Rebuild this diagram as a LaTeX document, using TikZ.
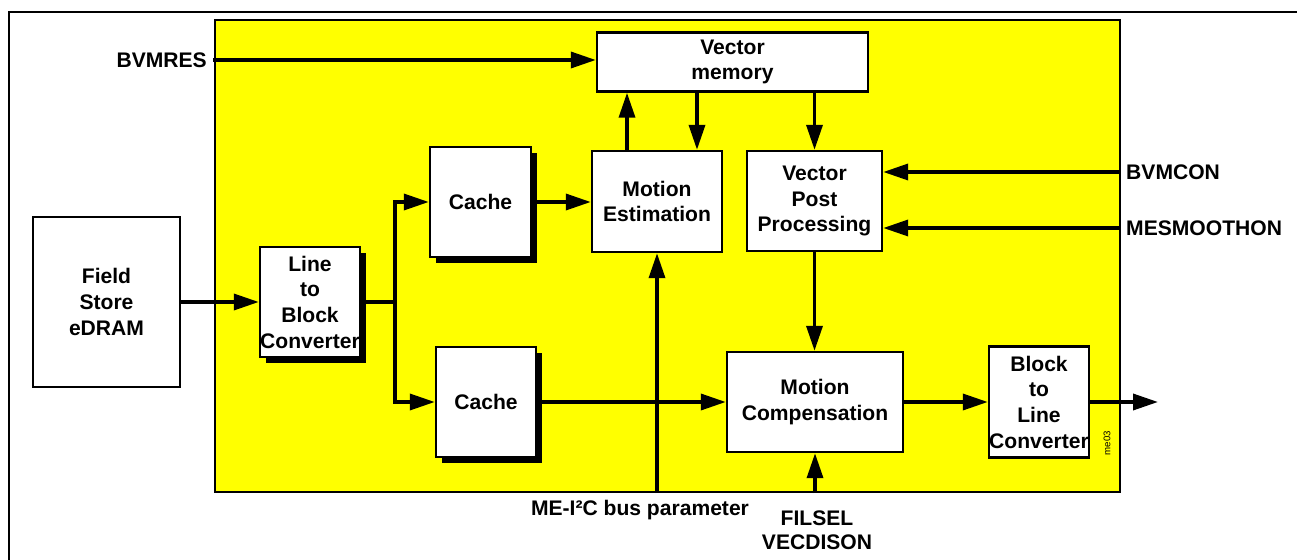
\documentclass[tikz,border=0pt]{standalone}
\usepackage{fontspec}
\setmainfont{Liberation Sans}
\usepackage{tikz}
\usetikzlibrary{arrows.meta, shadows}
\definecolor{chipyellow}{RGB}{255,255,0}
\tikzset{
    baseblock/.style={rectangle, draw=black, line width=1.4pt, fill=white, align=center, font=\fontsize{12}{14.6}\selectfont\bfseries, inner sep=0pt},
    shadowblock/.style={baseblock, drop shadow={shadow xshift=0.12cm, shadow yshift=-0.12cm, fill=black, opacity=1}},
    signal/.style={font=\fontsize{12}{14.4}\selectfont\bfseries, align=center},
    arrow/.style={line width=2pt, -{Triangle[length=0.5cm, width=0.32cm]}, color=black},
    line/.style={line width=2pt, color=black}
}

\begin{document}
\begin{tikzpicture}[x=0.02cm, y=-0.02cm]
    \useasboundingbox (0,0) rectangle (1297,560);
    \draw [line width=1.6pt] (9,570) -- (9,12) -- (1307,12);

    \node (chip) [rectangle, draw=black, line width=1.4pt, fill=chipyellow, minimum width=18.1cm, minimum height=9.44cm, inner sep=0pt] at (667.5,256) {};

    \node (field) [baseblock, minimum width=2.94cm, minimum height=3.4cm] at (106.5,302) {Field\\Store\\eDRAM};
    \node (ltb) [shadowblock, minimum width=2.0cm, minimum height=2.2cm] at (310,302) {Line\\to\\Block\\Converter};
    \node (cacheA) [shadowblock, minimum width=2.02cm, minimum height=2.2cm] at (480.5,202) {Cache};
    \node (cacheB) [shadowblock, minimum width=2.0cm, minimum height=2.2cm] at (486,402) {Cache};
    \node (me) [baseblock, minimum width=2.6cm, minimum height=2.02cm] at (657,201.5) {Motion\\Estimation};
    \node (vm) [baseblock, minimum width=5.42cm, minimum height=1.18cm] at (732.5,62) {Vector\\memory};
    \node (vpp) [baseblock, minimum width=2.7cm, minimum height=2.0cm] at (814.5,201) {Vector\\Post\\Processing};
    \node (mc) [baseblock, minimum width=3.52cm, minimum height=2.0cm] at (815,402) {Motion\\Compensation};
    \node (btl) [baseblock, minimum width=2.0cm, minimum height=2.22cm] at (1039,402) {Block\\to\\Line\\Converter};

    \node (bvmres) [signal, anchor=east] at (213,60) {BVMRES};
    \node (bvmcon) [signal, anchor=west] at (1120,172) {BVMCON};
    \node (smooth) [signal, anchor=west] at (1120,228) {MESMOOTHON};
    \node (i2c) [signal] at (640,510) {ME-I²C bus parameter};
    \node (filsel) [signal, font=\fontsize{12}{13.5}\selectfont\bfseries] at (817,530) {FILSEL\\VECDISON};
    \node (tag) [rotate=90, font=\fontsize{5.5}{6.5}\selectfont] at (1107,443) {me03};

    \coordinate (branch) at (395,302);
    \coordinate (meup) at ([xshift=-0.6cm]me.north);
    \coordinate (medown) at ([xshift=0.8cm]me.north);
    \coordinate (out) at (1158,402);

    \draw [arrow] (field) -- (ltb);
    \draw [line] (ltb.east) -- (branch);
    \draw [arrow] (branch) |- (cacheA.west);
    \draw [arrow] (branch) |- (cacheB.west);
    \draw [arrow] (cacheA.east) -- (me.west |- cacheA.east);
    \draw [arrow] (cacheB) -- (mc);
    \draw [arrow] (bvmres.east) -- (vm.west |- bvmres.east);
    \draw [arrow] (meup) -- (meup |- vm.south);
    \draw [arrow] (medown |- vm.south) -- (medown);
    \draw [arrow] (vm.south -| vpp.north) -- (vpp.north);
    \draw [arrow] (bvmcon.west) -- (bvmcon.west -| vpp.east);
    \draw [arrow] (smooth.west) -- (smooth.west -| vpp.east);
    \draw [arrow] (vpp.south) -- (vpp.south |- mc.north);
    \draw [arrow] (me.south |- chip.south) -- (me.south);
    \draw [arrow] (mc.south |- chip.south) -- (mc.south);
    \draw [arrow] (mc) -- (btl);
    \draw [arrow] (btl.east) -- (out);
\end{tikzpicture}
\end{document}
